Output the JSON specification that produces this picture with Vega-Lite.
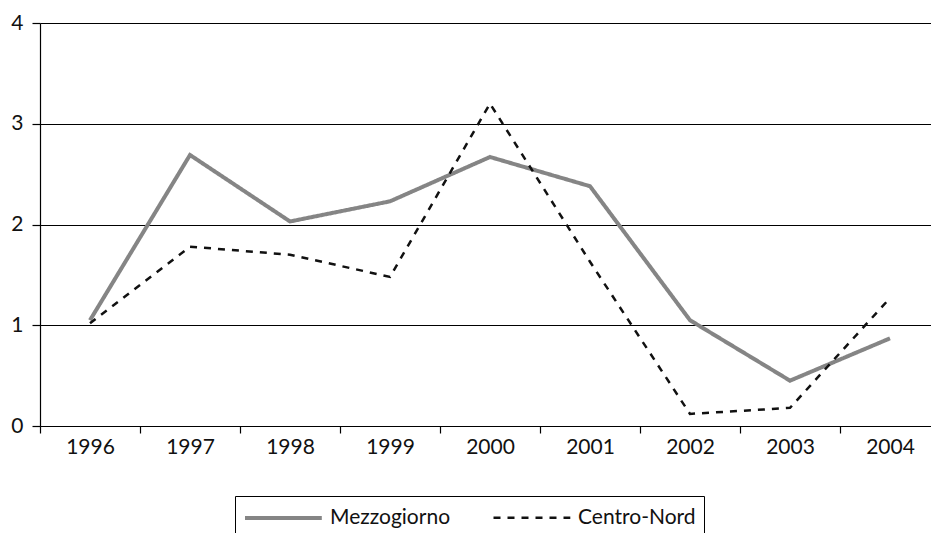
{
  "$schema": "https://vega.github.io/schema/vega-lite/v6.json",
  "width": 900,
  "height": 403,
  "autosize": {"type": "none"},
  "padding": {"left": 40, "top": 23, "right": 0, "bottom": 110},
  "background": "white",
  "config": {
    "view": {"stroke": null},
    "font": "Lato",
    "axis": {"labelFont": "Lato", "labelFontSize": 21, "labelColor": "#111", "domainColor": "#000", "tickColor": "#000", "gridColor": "#000", "gridOpacity": 1, "gridWidth": 1.2, "domainWidth": 1.2, "tickWidth": 1.2}
  },
  "data": {"values": [
    {"year": "1996", "series": "Mezzogiorno", "value": 1.05},
    {"year": "1997", "series": "Mezzogiorno", "value": 2.69},
    {"year": "1998", "series": "Mezzogiorno", "value": 2.03},
    {"year": "1999", "series": "Mezzogiorno", "value": 2.23},
    {"year": "2000", "series": "Mezzogiorno", "value": 2.67},
    {"year": "2001", "series": "Mezzogiorno", "value": 2.38},
    {"year": "2002", "series": "Mezzogiorno", "value": 1.05},
    {"year": "2003", "series": "Mezzogiorno", "value": 0.45},
    {"year": "2004", "series": "Mezzogiorno", "value": 0.87},
    {"year": "1996", "series": "Centro-Nord", "value": 1.02},
    {"year": "1997", "series": "Centro-Nord", "value": 1.78},
    {"year": "1998", "series": "Centro-Nord", "value": 1.70},
    {"year": "1999", "series": "Centro-Nord", "value": 1.48},
    {"year": "2000", "series": "Centro-Nord", "value": 3.2},
    {"year": "2001", "series": "Centro-Nord", "value": 1.63},
    {"year": "2002", "series": "Centro-Nord", "value": 0.12},
    {"year": "2003", "series": "Centro-Nord", "value": 0.18},
    {"year": "2004", "series": "Centro-Nord", "value": 1.27}
  ]},
  "mark": {"type": "line", "strokeJoin": "miter"},
  "encoding": {
    "x": {
      "field": "year", "type": "ordinal", "bandPosition": 0.5,
      "scale": {"type": "band", "paddingInner": 0, "paddingOuter": 0},
      "axis": {"title": null, "labelAngle": 0, "tickBand": "extent", "tickSize": 7, "labelPadding": 3, "grid": false}
    },
    "y": {
      "field": "value", "type": "quantitative",
      "scale": {"domain": [0, 4], "nice": false},
      "axis": {"title": null, "values": [0, 1, 2, 3, 4], "tickSize": 8, "labelPadding": 9, "grid": true, "format": "d"}
    },
    "color": {
      "field": "series", "type": "nominal",
      "scale": {"domain": ["Mezzogiorno", "Centro-Nord"], "range": ["#858585", "#111111"]},
      "legend": {
        "title": null, "orient": "none", "direction": "horizontal",
        "legendX": 195, "legendY": 473,
        "symbolType": "M-1,0L5.4,0", "symbolSize": 576, "symbolStrokeWidth": 3,
        "labelFont": "Lato", "labelFontSize": 21, "labelColor": "#111",
        "strokeColor": "#000", "padding": 8, "columnPadding": 37, "labelOffset": 59
      }
    },
    "strokeDash": {
      "field": "series", "type": "nominal",
      "scale": {"domain": ["Mezzogiorno", "Centro-Nord"], "range": [[1, 0], [7, 7]]}
    },
    "strokeWidth": {
      "field": "series", "type": "nominal",
      "scale": {"domain": ["Mezzogiorno", "Centro-Nord"], "range": [4, 2.5]},
      "legend": null
    }
  }
}
